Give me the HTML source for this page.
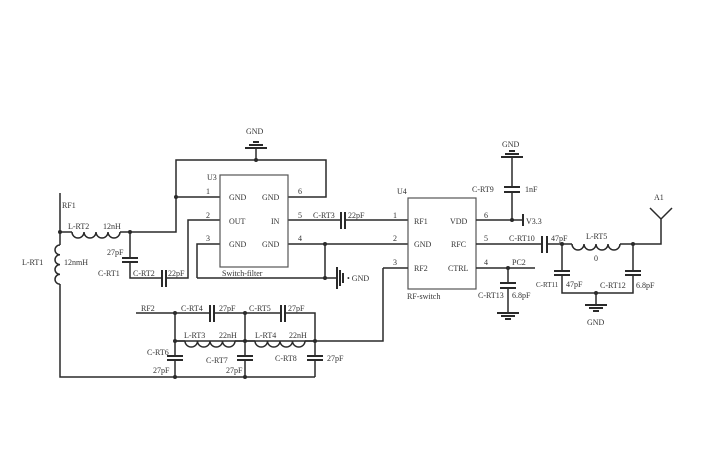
<!DOCTYPE html>
<html><head><meta charset="utf-8"><style>
html,body{margin:0;padding:0;background:#fff;}
svg{display:block;}
text{font-family:"Liberation Serif",serif;font-size:8px;fill:#333;}
.w{stroke:#2a2a2a;stroke-width:1.5;fill:none;}
.b{stroke:#555;stroke-width:1.2;fill:#fff;}
.p{stroke:#2a2a2a;stroke-width:2;}
.d{fill:#2a2a2a;}
</style></head><body>
<svg width="707" height="467" viewBox="0 0 707 467" xmlns="http://www.w3.org/2000/svg">
<path class="w" d="M60 193V245 M60 284V377H315"/>
<path class="w" d="M60 245 a5 4.9 0 0 0 0 9.8 a5 4.9 0 0 0 0 9.8 a5 4.9 0 0 0 0 9.8 a5 4.9 0 0 0 0 9.8"/>
<text x="22" y="265">L-RT1</text><text x="64" y="265">12nmH</text>
<text x="62" y="208">RF1</text>
<path class="w" d="M60 232H72 M120 232H176V160H326V197H288"/>
<path class="w" d="M72 232 a6 6 0 0 0 12 0 a6 6 0 0 0 12 0 a6 6 0 0 0 12 0 a6 6 0 0 0 12 0"/>
<text x="68" y="229">L-RT2</text><text x="103" y="229">12nH</text>
<circle class="d" cx="60" cy="232" r="2"/><circle class="d" cx="130" cy="232" r="2"/><circle class="d" cx="176" cy="197" r="2"/><circle class="d" cx="256" cy="160" r="2"/>
<path class="w" d="M130 232V258 M130 262V278H162 M166 278H188V220H220"/>
<path class="p" d="M122 258H138 M122 262H138 M162 270V287 M166 270V287"/>
<text x="107" y="255">27pF</text><text x="98" y="276">C-RT1</text><text x="133" y="276">C-RT2</text><text x="168" y="276">22pF</text>
<path class="w" d="M176 197H220 M197 278V244H220 M197 278H325V244 M288 244H408 M288 220H341 M345 220H408 M325 278H337"/>
<rect class="b" x="220" y="175" width="68" height="92"/>
<text x="207" y="180">U3</text>
<text x="229" y="200">GND</text><text x="262" y="200">GND</text>
<text x="229" y="224">OUT</text><text x="271" y="224">IN</text>
<text x="229" y="247">GND</text><text x="262" y="247">GND</text>
<text x="222" y="276">Switch-filter</text>
<text x="206" y="194">1</text><text x="206" y="218">2</text><text x="206" y="241">3</text>
<text x="298" y="194">6</text><text x="298" y="218">5</text><text x="298" y="241">4</text>
<circle class="d" cx="325" cy="244" r="2"/><circle class="d" cx="325" cy="278" r="2"/>
<path class="w" d="M256 160V148"/><path class="p" d="M245 148H267 M249 145H263 M253 142H259"/>
<text x="246" y="134">GND</text>
<path class="p" d="M337 267V289 M340 270V286 M343 273V283"/><text x="347" y="281">• GND</text>
<path class="p" d="M341 212V229 M345 212V229"/>
<text x="313" y="218">C-RT3</text><text x="348" y="218">22pF</text>
<rect class="b" x="408" y="198" width="68" height="91"/>
<text x="397" y="194">U4</text>
<text x="414" y="224">RF1</text><text x="450" y="224">VDD</text>
<text x="414" y="247">GND</text><text x="451" y="247">RFC</text>
<text x="414" y="271">RF2</text><text x="448" y="271">CTRL</text>
<text x="407" y="299">RF-switch</text>
<text x="393" y="218">1</text><text x="393" y="241">2</text><text x="393" y="265">3</text>
<text x="484" y="218">6</text><text x="484" y="241">5</text><text x="484" y="265">4</text>
<path class="w" d="M383 268H408 M383 268V341H175"/>
<path class="w" d="M476 220H523 M512 220V192 M512 187V157"/>
<path class="p" d="M504 187H520 M504 192H520 M523 214V226"/>
<path class="p" d="M501 157H523 M505 154H519 M509 151H515"/>
<circle class="d" cx="512" cy="220" r="2"/>
<text x="502" y="147">GND</text><text x="472" y="192">C-RT9</text><text x="525" y="192">1nF</text><text x="526" y="224">V3.3</text>
<path class="w" d="M476 244H542 M547 244H572 M620 244H661V219 M650 208L661 219L672 208"/>
<path class="p" d="M542 236V253 M547 236V253"/>
<path class="w" d="M572 244 a6 6 0 0 0 12 0 a6 6 0 0 0 12 0 a6 6 0 0 0 12 0 a6 6 0 0 0 12 0"/>
<text x="509" y="241">C-RT10</text><text x="551" y="241">47pF</text><text x="586" y="239">L-RT5</text><text x="594" y="261">0</text>
<text x="654" y="200">A1</text>
<path class="w" d="M562 244V271 M562 275V293H633V275 M633 271V244 M596 293V305"/>
<path class="p" d="M554 271H570 M554 275H570 M625 271H641 M625 275H641 M585 305H607 M589 308H603 M593 311H599"/>
<circle class="d" cx="562" cy="244" r="2"/><circle class="d" cx="633" cy="244" r="2"/><circle class="d" cx="596" cy="293" r="2"/>
<text x="536" y="287" style="font-size:7px">C-RT11</text><text x="566" y="287">47pF</text><text x="600" y="288">C-RT12</text><text x="636" y="288">6.8pF</text>
<text x="587" y="325">GND</text>
<path class="w" d="M476 268H535 M508 268V283 M508 288V313"/>
<path class="p" d="M500 283H516 M500 288H516 M497 313H519 M501 316H515 M505 319H511"/>
<circle class="d" cx="508" cy="268" r="2"/>
<text x="512" y="265">PC2</text><text x="478" y="298">C-RT13</text><text x="512" y="298">6.8pF</text>
<path class="w" d="M136 313H210 M214 313H281 M285 313H315V341"/>
<path class="p" d="M210 305V322 M214 305V322 M281 305V322 M285 305V322"/>
<text x="141" y="311">RF2</text><text x="181" y="311">C-RT4</text><text x="219" y="311">27pF</text><text x="249" y="311">C-RT5</text><text x="288" y="311">27pF</text>
<path class="w" d="M175 313V356 M175 360V377 M245 313V356 M245 360V377 M315 341V356 M315 360V377"/>
<path class="p" d="M167 356H183 M167 360H183 M237 356H253 M237 360H253 M307 356H323 M307 360H323"/>
<path class="w" d="M175 341H185 M235 341H255 M305 341H315"/>
<path class="w" d="M185 341 a6.25 6 0 0 0 12.5 0 a6.25 6 0 0 0 12.5 0 a6.25 6 0 0 0 12.5 0 a6.25 6 0 0 0 12.5 0"/>
<path class="w" d="M255 341 a6.25 6 0 0 0 12.5 0 a6.25 6 0 0 0 12.5 0 a6.25 6 0 0 0 12.5 0 a6.25 6 0 0 0 12.5 0"/>
<circle class="d" cx="175" cy="313" r="2"/><circle class="d" cx="245" cy="313" r="2"/><circle class="d" cx="175" cy="341" r="2"/><circle class="d" cx="245" cy="341" r="2"/><circle class="d" cx="315" cy="341" r="2"/>
<circle class="d" cx="175" cy="377" r="2"/><circle class="d" cx="245" cy="377" r="2"/>
<text x="184" y="338">L-RT3</text><text x="219" y="338">22nH</text><text x="255" y="338">L-RT4</text><text x="289" y="338">22nH</text>
<text x="147" y="355">C-RT6</text><text x="153" y="373">27pF</text>
<text x="206" y="363">C-RT7</text><text x="226" y="373">27pF</text>
<text x="275" y="361">C-RT8</text><text x="327" y="361">27pF</text>
</svg>
</body></html>
